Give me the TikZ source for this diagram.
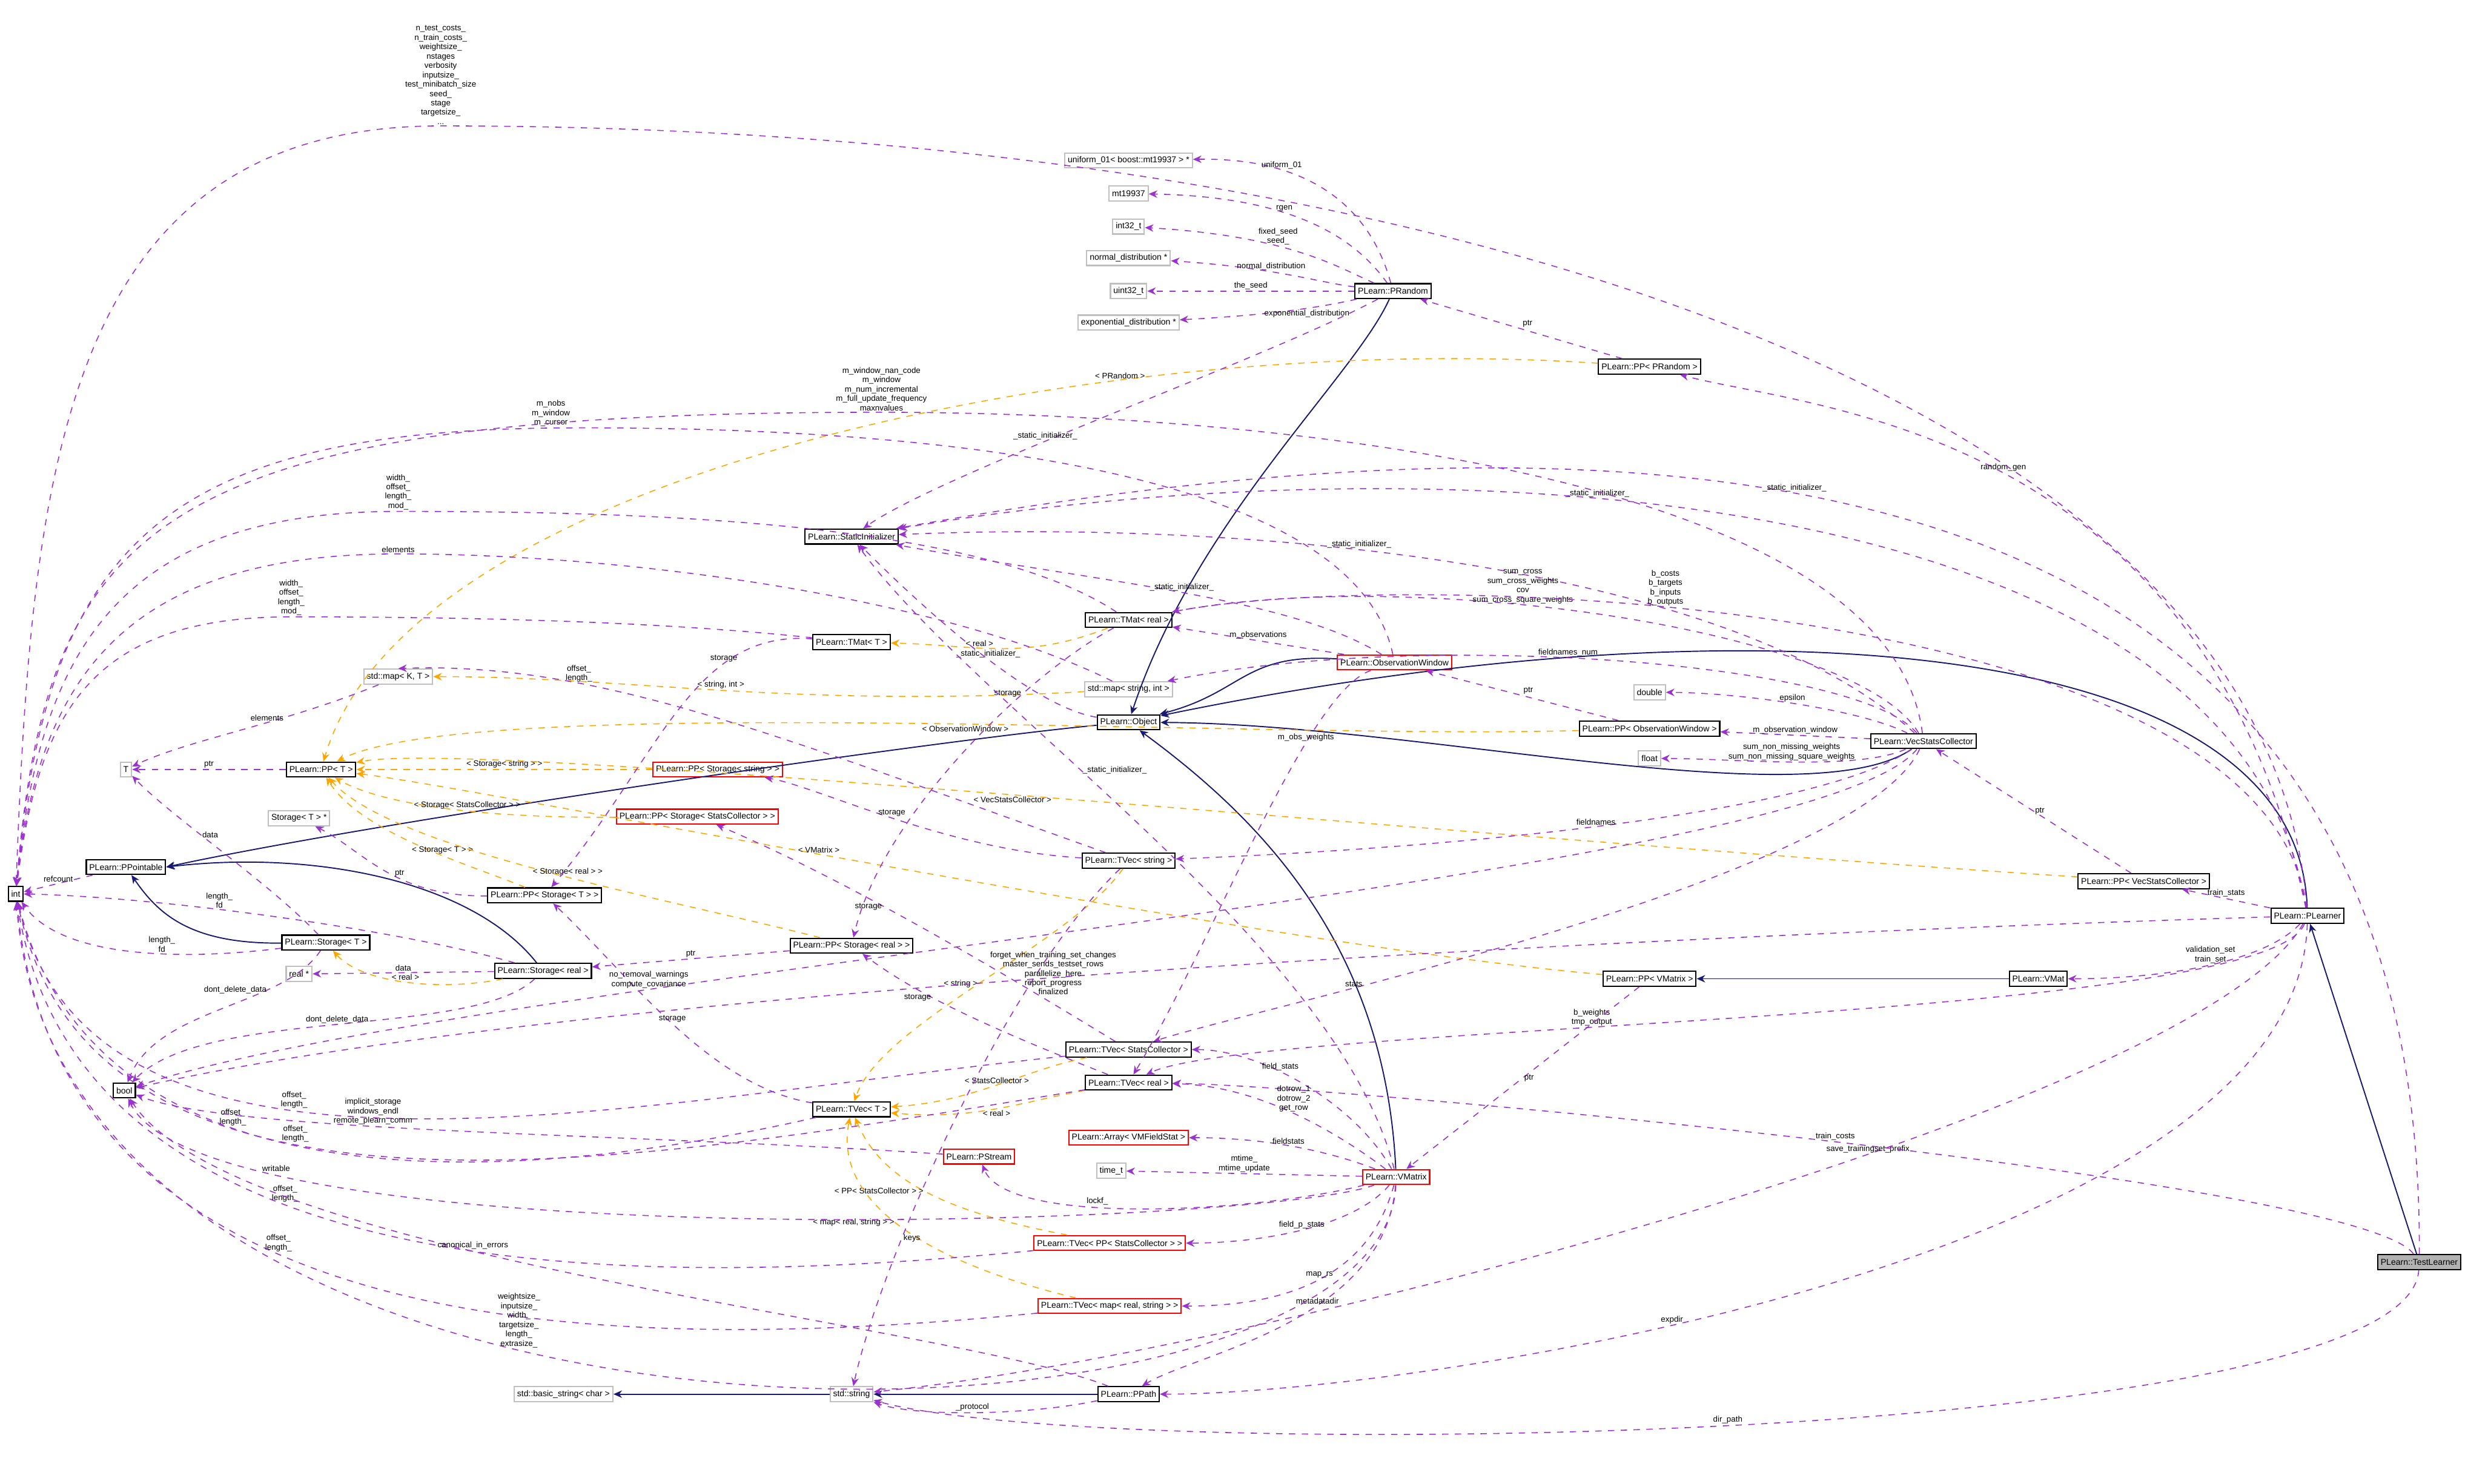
\documentclass[tikz,border=0pt]{standalone}
\usepackage{fontspec}
\setmainfont{Liberation Sans}
\usetikzlibrary{arrows.meta,positioning}
\definecolor{dorchid}{HTML}{9A32CD}
\definecolor{midblue}{HTML}{191970}
\definecolor{orng}{HTML}{FFA500}

\tikzset{
  cls/.style={draw=black, semithick, fill=white, inner sep=1.4pt, minimum height=7pt, font=\fontsize{4}{4.5}\selectfont},
  ext/.style={cls, draw=black!25},
  bad/.style={cls, draw=red},
  usage/.style={-{Stealth[length=4pt,width=3.5pt]}, draw=dorchid, dashed, line width=0.45pt},
  inherit/.style={-{Stealth[length=4pt,width=3.5pt]}, draw=midblue, line width=0.55pt},
  tmpl/.style={-{Stealth[length=4pt,width=3.5pt]}, draw=orng, dashed, line width=0.45pt},
  lbl/.style={font=\fontsize{3.8}{4.4}\selectfont, align=center, inner sep=0.5pt}
}

\begin{document}
\begin{tikzpicture}[x=0.026cm, y=-0.026cm]
  \useasboundingbox (0,0) rectangle (1568,943);

  % classes
  \node[cls] (int) at (10,568) {int};
  \node[cls] (bool) at (79,693) {bool};
  \node[cls] (ppointable) at (80,551) {PLearn::PPointable};
  \node[ext] (T) at (80,489) {T};
  \node[cls] (ppT) at (204,489) {PLearn::PP< T >};
  \node[ext] (mapKT) at (253,430) {std::map< K, T >};
  \node[ext] (storTptr) at (190,520) {Storage< T > *};
  \node[cls] (storT) at (207,599) {PLearn::Storage< T >};
  \node[ext] (realptr) at (190,619) {real *};
  \node[cls] (storReal) at (345,617) {PLearn::Storage< real >};
  \node[cls] (ppStorT) at (346,569) {PLearn::PP< Storage< T > >};
  \node[bad] (ppStorStr) at (456,489) {PLearn::PP< Storage< string > >};
  \node[bad] (ppStorSC) at (443,519) {PLearn::PP< Storage< StatsCollector > >};
  \node[cls] (static) at (541,341) {PLearn::StaticInitializer};
  \node[cls] (tmatT) at (541,408) {PLearn::TMat< T >};
  \node[cls] (tmatReal) at (717,394) {PLearn::TMat< real >};
  \node[ext] (mapStrInt) at (717,438) {std::map< string, int >};
  \node[cls] (object) at (717,459) {PLearn::Object};
  \node[bad] (obswin) at (886,421) {PLearn::ObservationWindow};
  \node[cls] (tvecStr) at (717,547) {PLearn::TVec< string >};
  \node[cls] (ppStorReal) at (541,601) {PLearn::PP< Storage< real > >};
  \node[cls] (tvecSC) at (717,667) {PLearn::TVec< StatsCollector >};
  \node[cls] (tvecReal) at (717,688) {PLearn::TVec< real >};
  \node[cls] (tvecT) at (541,705) {PLearn::TVec< T >};
  \node[bad] (arrayVM) at (717,723) {PLearn::Array< VMFieldStat >};
  \node[bad] (pstream) at (622,735) {PLearn::PStream};
  \node[ext] (timet) at (706,744) {time\_t};
  \node[bad] (vmatrix) at (887,748) {PLearn::VMatrix};
  \node[bad] (tvecPPSC) at (705,790) {PLearn::TVec< PP< StatsCollector > >};
  \node[bad] (tvecMap) at (705,830) {PLearn::TVec< map< real, string > >};
  \node[ext] (string) at (541,886) {std::string};
  \node[cls] (ppath) at (717,886) {PLearn::PPath};
  \node[ext] (basicstr) at (358,886) {std::basic\_string< char >};
  \node[ext] (unif) at (717,102) {uniform\_01< boost::mt19937 > *};
  \node[ext] (mt) at (717,123) {mt19937};
  \node[ext] (i32) at (717,144) {int32\_t};
  \node[ext] (normal) at (717,164) {normal\_distribution *};
  \node[ext] (u32) at (717,185) {uint32\_t};
  \node[ext] (expo) at (717,205) {exponential\_distribution *};
  \node[cls] (prandom) at (885,185) {PLearn::PRandom};
  \node[cls] (ppPRandom) at (1048,233) {PLearn::PP< PRandom >};
  \node[ext] (double) at (1048,440) {double};
  \node[cls] (ppObs) at (1048,463) {PLearn::PP< ObservationWindow >};
  \node[ext] (float) at (1048,482) {float};
  \node[cls] (vecsc) at (1222,471) {PLearn::VecStatsCollector};
  \node[cls] (ppVecSC) at (1362,560) {PLearn::PP< VecStatsCollector >};
  \node[cls] (ppVMatrix) at (1048,622) {PLearn::PP< VMatrix >};
  \node[cls] (vmat) at (1295,622) {PLearn::VMat};
  \node[cls] (plearner) at (1466,582) {PLearn::PLearner};
  \node[cls, fill=black!30] (testlearner) at (1537,802) {PLearn::TestLearner};

  % inheritance
  \draw[inherit] (object) .. controls (600,470) and (250,520) .. (ppointable.east);
  \draw[inherit] (storT) .. controls (120,600) and (100,580) .. (ppointable);
  \draw[inherit] (storReal) .. controls (300,560) and (200,540) .. (ppointable.east);
  \draw[inherit] (obswin) .. controls (790,415) and (790,440) .. (object);
  \draw[inherit] (prandom) .. controls (860,240) and (760,330) .. (object);
  \draw[inherit] (vecsc) .. controls (1150,520) and (900,460) .. (object);
  \draw[inherit] (plearner) .. controls (1460,400) and (1100,380) .. (object);
  \draw[inherit] (vmatrix) .. controls (880,600) and (800,520) .. (object);
  \draw[inherit] (vmat) -- (ppVMatrix);
  \draw[inherit] (testlearner) -- (plearner);
  \draw[inherit] (string) -- (basicstr);
  \draw[inherit] (ppath) -- (string);

  % templates
  \draw[tmpl] (ppStorStr) -- node[lbl,above] {< Storage< string > >} (ppT);
  \draw[tmpl] (ppStorSC) .. controls (300,520) and (240,510) .. node[lbl,above,pos=0.4] {< Storage< StatsCollector > >} (ppT);
  \draw[tmpl] (ppStorT) .. controls (300,550) and (230,530) .. node[lbl,pos=0.4,above] {< Storage< T > >} (ppT);
  \draw[tmpl] (ppStorReal) .. controls (420,570) and (250,540) .. node[lbl,pos=0.45,above] {< Storage< real > >} (ppT);
  \draw[tmpl] (ppPRandom) .. controls (700,210) and (260,300) .. node[lbl,pos=0.3,above] {< PRandom >} (ppT);
  \draw[tmpl] (ppObs) .. controls (800,470) and (300,440) .. node[lbl,pos=0.45,below] {< ObservationWindow >} (ppT);
  \draw[tmpl] (ppVecSC) .. controls (900,530) and (300,470) .. node[lbl,pos=0.5,below] {< VecStatsCollector >} (ppT);
  \draw[tmpl] (ppVMatrix) .. controls (800,600) and (300,500) .. node[lbl,pos=0.55,above] {< VMatrix >} (ppT);
  \draw[tmpl] (storReal) .. controls (280,630) and (230,625) .. node[lbl,pos=0.5,above] {< real >} (storT);
  \draw[tmpl] (tmatReal) .. controls (650,420) and (620,410) .. node[lbl,pos=0.6,above] {< real >} (tmatT);
  \draw[tmpl] (mapStrInt) .. controls (500,450) and (400,430) .. node[lbl,pos=0.5,above] {< string, int >} (mapKT);
  \draw[tmpl] (tvecStr) .. controls (680,600) and (560,650) .. node[lbl,pos=0.5,left] {< string >} (tvecT);
  \draw[tmpl] (tvecSC) .. controls (650,680) and (620,700) .. node[lbl,pos=0.5,above] {< StatsCollector >} (tvecT);
  \draw[tmpl] (tvecReal) .. controls (650,700) and (620,712) .. node[lbl,pos=0.5,below] {< real >} (tvecT);
  \draw[tmpl] (tvecPPSC) .. controls (600,770) and (560,750) .. node[lbl,pos=0.5,left] {< PP< StatsCollector > >} (tvecT);
  \draw[tmpl] (tvecMap) .. controls (580,800) and (530,760) .. node[lbl,pos=0.5,left] {< map< real, string > >} (tvecT);

  % members of the basic classes
  \draw[usage] (ppointable) -- node[lbl,above] {refcount} (int);
  \draw[usage] (ppT) -- node[lbl,above] {ptr} (T);
  \draw[usage] (mapKT) .. controls (180,460) and (120,470) .. node[lbl,above,pos=0.4] {elements} (T);
  \draw[usage] (storT) .. controls (170,560) and (110,520) .. node[lbl,right,pos=0.6] {data} (T);
  \draw[usage] (storT) .. controls (120,610) and (40,610) .. node[lbl,above,pos=0.4] {length\_\\fd} (int);
  \draw[usage] (storT) .. controls (180,640) and (100,640) .. node[lbl,left,pos=0.3] {dont\_delete\_data} (bool);
  \draw[usage] (storReal) -- node[lbl,above] {data} (realptr);
  \draw[usage] (storReal) .. controls (250,590) and (100,570) .. node[lbl,above,pos=0.6] {length\_\\fd} (int);
  \draw[usage] (storReal) .. controls (300,660) and (130,640) .. node[lbl,above,pos=0.5] {dont\_delete\_data} (bool);
  \draw[usage] (ppStorT) .. controls (250,570) and (230,540) .. node[lbl,above,pos=0.4] {ptr} (storTptr);
  \draw[usage] (ppStorReal) -- node[lbl,above] {ptr} (storReal);
  \draw[usage] (tvecStr) .. controls (600,540) and (520,500) .. node[lbl,above] {storage} (ppStorStr);
  \draw[usage] (tvecSC) .. controls (640,620) and (540,560) .. node[lbl,left,pos=0.6] {storage} (ppStorSC);
  \draw[usage] (tvecReal) .. controls (620,650) and (580,630) .. node[lbl,left,pos=0.6] {storage} (ppStorReal);
  \draw[usage] (tvecT) .. controls (450,690) and (400,620) .. node[lbl,above,pos=0.5] {storage} (ppStorT);
  \draw[usage] (tmatT) .. controls (440,400) and (420,480) .. node[lbl,above,pos=0.3] {storage} (ppStorT);
  \draw[usage] (tmatReal) .. controls (650,430) and (560,520) .. node[lbl,left,pos=0.3] {storage} (ppStorReal);
  \draw[usage] (tmatT) .. controls (420,395) and (300,392) .. (185,392)
    node[lbl,above] {width\_\\offset\_\\length\_\\mod\_} .. controls (60,392) and (25,450) .. (int);
  \draw[usage] (tmatReal) .. controls (620,330) and (400,325) .. (253,325)
    node[lbl,above] {width\_\\offset\_\\length\_\\mod\_} .. controls (70,325) and (25,420) .. (int);
  \draw[usage] (mapStrInt) .. controls (600,380) and (400,352) .. (253,352)
    node[lbl,above] {elements} .. controls (80,352) and (25,430) .. (int);
  \draw[usage] (tvecStr) .. controls (500,470) and (380,420) .. node[lbl,above,pos=0.7] {offset\_\\length\_} (mapKT.north);
  \draw[usage] (tvecT) .. controls (300,760) and (60,760) .. node[lbl,above,pos=0.6] {offset\_\\length\_} (int);
  \draw[usage] (tvecSC) .. controls (400,700) and (60,780) .. node[lbl,above,pos=0.6] {offset\_\\length\_} (int);
  \draw[usage] (tvecReal) .. controls (400,740) and (60,800) .. node[lbl,above,pos=0.6] {offset\_\\length\_} (int);
  \draw[usage] (tvecPPSC) .. controls (400,820) and (50,820) .. node[lbl,above,pos=0.6] {offset\_\\length\_} (int);
  \draw[usage] (tvecMap) .. controls (400,860) and (40,860) .. node[lbl,above,pos=0.6] {offset\_\\length\_} (int);
  \draw[usage] (tvecStr) .. controls (640,620) and (560,800) .. node[lbl,right,pos=0.7] {keys} (string);

  % static initializers
  \draw[usage] (object) .. controls (660,450) and (600,400) .. node[lbl,above,pos=0.5] {\_static\_initializer\_} (static);
  \draw[usage] (obswin) .. controls (820,380) and (700,370) .. node[lbl,above,pos=0.5] {\_static\_initializer\_} (static);
  \draw[usage] (prandom) .. controls (800,230) and (600,300) .. node[lbl,above,pos=0.6] {\_static\_initializer\_} (static);
  \draw[usage] (vecsc) .. controls (1100,360) and (800,330) .. node[lbl,above,pos=0.6] {\_static\_initializer\_} (static);
  \draw[usage] (plearner) .. controls (1420,300) and (900,280) .. node[lbl,above,pos=0.6] {\_static\_initializer\_} (static);
  \draw[usage] (vmatrix) .. controls (850,600) and (620,450) .. node[lbl,right,pos=0.6] {\_static\_initializer\_} (static);
  \draw[usage] (testlearner) .. controls (1540,300) and (1100,240) .. node[lbl,above,pos=0.6] {\_static\_initializer\_} (static);

  % PRandom
  \draw[usage] (prandom) .. controls (870,130) and (830,100) .. node[lbl,above,pos=0.7] {uniform\_01} (unif);
  \draw[usage] (prandom) .. controls (860,150) and (820,125) .. node[lbl,above,pos=0.6] {rgen} (mt);
  \draw[usage] (prandom) .. controls (850,170) and (820,150) .. node[lbl,above,pos=0.6] {fixed\_seed\\seed\_} (i32);
  \draw[usage] (prandom) .. controls (840,180) and (810,170) .. node[lbl,above,pos=0.6] {normal\_distribution} (normal);
  \draw[usage] (prandom) -- node[lbl,above] {the\_seed} (u32);
  \draw[usage] (prandom) .. controls (840,195) and (810,200) .. node[lbl,below,pos=0.4] {exponential\_distribution} (expo);
  \draw[usage] (ppPRandom) -- node[lbl,above right] {ptr} (prandom);
  \draw[usage] (plearner) .. controls (1400,270) and (1150,260) .. node[lbl,above,pos=0.5] {random\_gen} (ppPRandom);

  % ObservationWindow and VecStatsCollector
  \draw[usage] (obswin) .. controls (860,300) and (600,270) .. (350,272)
    node[lbl,above] {m\_nobs\\m\_window\\m\_cursor} .. controls (100,275) and (30,350) .. (int);
  \draw[usage] (obswin) -- node[lbl,above] {m\_observations} (tmatReal);
  \draw[usage] (obswin) .. controls (830,440) and (770,600) .. node[lbl,above,pos=0.3] {m\_obs\_weights} (tvecReal);
  \draw[usage] (ppObs) -- node[lbl,above right] {ptr} (obswin);
  \draw[usage] (vecsc) -- node[lbl,above] {m\_observation\_window} (ppObs);
  \draw[usage] (vecsc) .. controls (1180,450) and (1100,440) .. node[lbl,above] {epsilon} (double);
  \draw[usage] (vecsc) .. controls (1180,490) and (1100,482) .. node[lbl,above] {sum\_non\_missing\_weights\\sum\_non\_missing\_square\_weights} (float);
  \draw[usage] (vecsc) .. controls (1180,400) and (900,360) .. node[lbl,above,pos=0.6] {sum\_cross\\sum\_cross\_weights\\cov\\sum\_cross\_square\_weights} (tmatReal);
  \draw[usage] (vecsc) .. controls (1180,420) and (900,400) .. node[lbl,above,pos=0.55] {fieldnames\_num} (mapStrInt);
  \draw[usage] (vecsc) .. controls (1150,520) and (900,540) .. node[lbl,above,pos=0.5] {fieldnames} (tvecStr);
  \draw[usage] (vecsc) .. controls (1180,560) and (800,640) .. node[lbl,above,pos=0.7] {stats} (tvecSC);
  \draw[usage] (vecsc) .. controls (1150,560) and (300,620) .. node[lbl,above,pos=0.7] {no\_removal\_warnings\\compute\_covariance} (bool);
  \draw[usage] (vecsc) .. controls (1200,300) and (800,262) .. (560,262)
    node[lbl,above] {m\_window\_nan\_code\\m\_window\\m\_num\_incremental\\m\_full\_update\_frequency\\maxnvalues}
    .. controls (100,262) and (30,330) .. (int);
  \draw[usage] (ppVecSC) -- node[lbl,right] {ptr} (vecsc);

  % PLearner and TestLearner
  \draw[usage] (plearner) -- node[lbl,above] {train\_stats} (ppVecSC);
  \draw[usage] (plearner) .. controls (1440,610) and (1380,622) .. node[lbl,above,pos=0.5] {validation\_set\\train\_set} (vmat);
  \draw[usage] (plearner) .. controls (1440,650) and (800,650) .. node[lbl,above,pos=0.6] {b\_weights\\tmp\_output} (tvecReal);
  \draw[usage] (plearner) .. controls (1440,380) and (900,360) .. node[lbl,above,pos=0.6] {b\_costs\\b\_targets\\b\_inputs\\b\_outputs} (tmatReal);
  \draw[usage] (plearner) .. controls (1200,590) and (400,620) .. node[lbl,left,pos=0.55] {forget\_when\_training\_set\_changes\\master\_sends\_testset\_rows\\parallelize\_here\\report\_progress\\finalized} (bool);
  \draw[usage] (plearner) .. controls (1460,800) and (900,886) .. node[lbl,above,pos=0.6] {expdir} (ppath);
  \draw[usage] (plearner) .. controls (1400,700) and (800,860) .. node[lbl,above,pos=0.4] {save\_trainingset\_prefix} (string);
  \draw[usage] (plearner) .. controls (1440,250) and (900,80) .. (280,80)
    node[lbl,above] {n\_test\_costs\_\\n\_train\_costs\_\\weightsize\_\\nstages\\verbosity\\inputsize\_\\test\_minibatch\_size\\seed\_\\stage\\targetsize\_\\...}
    .. controls (40,80) and (20,300) .. (int);
  \draw[usage] (testlearner) .. controls (1500,750) and (850,690) .. node[lbl,above,pos=0.5] {train\_costs} (tvecReal);
  \draw[usage] (testlearner) .. controls (1530,920) and (700,930) .. node[lbl,above,pos=0.5] {dir\_path} (string);

  % VMatrix
  \draw[usage] (ppVMatrix) -- node[lbl,right] {ptr} (vmatrix);
  \draw[usage] (vmatrix) .. controls (860,700) and (800,667) .. node[lbl,above,pos=0.6] {field\_stats} (tvecSC);
  \draw[usage] (vmatrix) .. controls (850,720) and (800,690) .. node[lbl,above,pos=0.5] {dotrow\_1\\dotrow\_2\\get\_row} (tvecReal);
  \draw[usage] (vmatrix) .. controls (840,730) and (800,723) .. node[lbl,above] {fieldstats} (arrayVM);
  \draw[usage] (vmatrix) -- node[lbl,above] {mtime\_\\mtime\_update} (timet);
  \draw[usage] (vmatrix) .. controls (800,770) and (640,780) .. node[lbl,above,pos=0.6] {lockf\_} (pstream);
  \draw[usage] (vmatrix) .. controls (860,780) and (800,790) .. node[lbl,above,pos=0.5] {field\_p\_stats} (tvecPPSC);
  \draw[usage] (vmatrix) .. controls (870,810) and (820,830) .. node[lbl,above,pos=0.5] {map\_rs} (tvecMap);
  \draw[usage] (vmatrix) .. controls (880,840) and (760,860) .. node[lbl,above,pos=0.4] {metadatadir} (ppath);
  \draw[usage] (vmatrix) .. controls (800,780) and (130,800) .. node[lbl,above,pos=0.8] {writable} (bool);
  \draw[usage] (vmatrix) .. controls (880,940) and (40,960) .. node[lbl,above,pos=0.6] {weightsize\_\\inputsize\_\\width\_\\targetsize\_\\length\_\\extrasize\_} (int);

  % streams and paths
  \draw[usage] (pstream) .. controls (400,720) and (150,720) .. node[lbl,above,pos=0.6] {implicit\_storage\\windows\_endl\\remote\_plearn\_comm} (bool);
  \draw[usage] (ppath) .. controls (650,900) and (580,900) .. node[lbl,above,pos=0.5] {\_protocol} (string);
  \draw[usage] (ppath) .. controls (600,840) and (150,800) .. node[lbl,above,pos=0.6] {canonical\_in\_errors} (bool);
\end{tikzpicture}
\end{document}
